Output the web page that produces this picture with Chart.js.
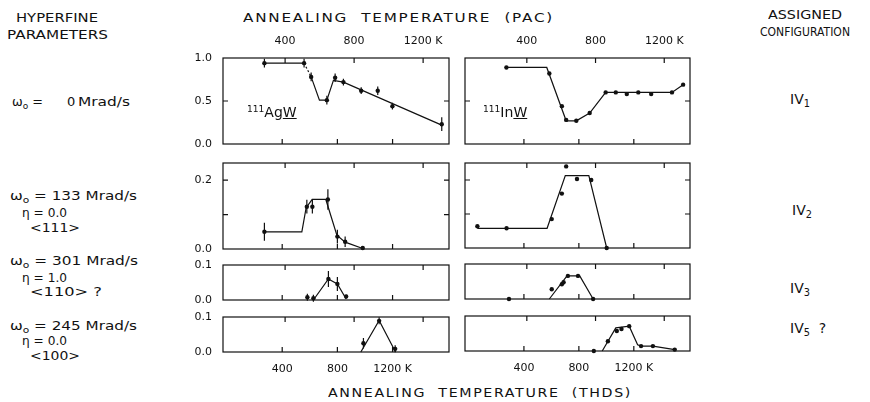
<!DOCTYPE html>
<html>
<head>
<meta charset="utf-8">
<script src="https://cdn.jsdelivr.net/npm/chart.js@4/dist/chart.umd.min.js"></script>
<style>
body { margin: 0; background: #fff; width: 870px; height: 402px; position: relative; overflow: hidden; font-family: 'DejaVu Sans', sans-serif; color: #111; }
canvas { position: absolute; }
.t { position: absolute; white-space: nowrap; font-size: 13px; line-height: 15px; transform-origin: left center; }
.t sub { font-size: 0.7em; vertical-align: -0.3em; line-height: 0; }
.t sup { font-size: 0.65em; vertical-align: 0.55em; line-height: 0; }
</style>
</head>
<body>
<script>
// --- données (températures en K, échelle PAC) ---
const PAC_TICKS = [400, 800, 1200];
const THDS_TICKS = [400, 800, 1200];
const PAC_MIN = 40, PAC_MAX = 1350;
const THDS_MIN = -29, THDS_MAX = 1609;

// IV1 - 111AgW
const agIV1_T = [280, 510, 551, 642, 690, 738, 841, 937, 1022, 1308];
const agIV1_f = [0.94, 0.94, 0.78, 0.51, 0.77, 0.72, 0.62, 0.62, 0.44, 0.23];
const agIV1_err = [0.05, 0.05, 0.05, 0.05, 0.05, 0.04, 0.04, 0.05, 0.04, 0.08];
const agIV1_fitT = [280, 510, 551, 599, 642, 680, 738, 1308];
const agIV1_fitF = [0.94, 0.94, 0.78, 0.51, 0.51, 0.74, 0.72, 0.22];

// IV1 - 111InW
const inIV1_T = [281, 531, 604, 629, 688, 766, 859, 918, 982, 1049, 1124, 1245, 1310];
const inIV1_f = [0.89, 0.82, 0.44, 0.28, 0.27, 0.36, 0.60, 0.60, 0.58, 0.60, 0.58, 0.60, 0.69];
const inIV1_fitT = [281, 516, 629, 688, 766, 859, 1245, 1310];
const inIV1_fitF = [0.89, 0.89, 0.27, 0.27, 0.36, 0.60, 0.60, 0.69];

// IV2
const agIV2_T = [280, 526, 558, 648, 703, 748, 850];
const agIV2_f = [0.05, 0.123, 0.123, 0.144, 0.036, 0.021, 0.003];
const agIV2_err = [0.026, 0.02, 0.02, 0.03, 0.02, 0.015, 0];
const agIV2_fitT = [280, 497, 522, 557, 636, 700, 748, 858];
const agIV2_fitF = [0.05, 0.05, 0.12, 0.144, 0.144, 0.04, 0.02, 0.0];

const inIV2_T = [112, 282, 545, 604, 629, 692, 775, 865];
const inIV2_f = [0.064, 0.058, 0.085, 0.16, 0.24, 0.203, 0.2, 0.0];
const inIV2_fitT = [112, 518, 624, 761, 865];
const inIV2_fitF = [0.058, 0.058, 0.213, 0.213, 0.0];

// IV3
const agIV3_T = [529, 564, 651, 703, 754];
const agIV3_f = [0.008, 0.005, 0.06, 0.046, 0.01];
const agIV3_err = [0.01, 0.01, 0.023, 0.02, 0.005];
const agIV3_fitT = [564, 651, 703, 754];
const agIV3_fitF = [0.0, 0.06, 0.046, 0.003];

const inIV3_T = [296, 545, 604, 614, 639, 698, 786];
const inIV3_f = [0.0, 0.028, 0.042, 0.048, 0.066, 0.066, 0.0];
const inIV3_fitT = [531, 634, 708, 786];
const inIV3_fitF = [0.0, 0.066, 0.066, 0.0];

// IV5
const agIV5_T = [854, 945, 1038];
const agIV5_f = [0.025, 0.089, 0.009];
const agIV5_err = [0.015, 0.01, 0.01];
const agIV5_fitT = [839, 945, 1040];
const agIV5_fitF = [0.0, 0.09, 0.0];

const inIV5_T = [790, 872, 924, 951, 996, 1065, 1134, 1261];
const inIV5_f = [0.0, 0.028, 0.057, 0.063, 0.071, 0.014, 0.014, 0.004];
const inIV5_fitT = [839, 918, 996, 1045, 1065, 1134, 1261];
const inIV5_fitF = [0.0, 0.066, 0.071, 0.018, 0.014, 0.014, 0.004];

Chart.defaults.font.family = 'DejaVu Sans';
Chart.defaults.font.size = 11;
Chart.defaults.color = '#111';

// cadre, graduations intérieures et barres d'erreur
const frame = {
    id: 'frame',
    afterDatasetsDraw(chart, args, opts) {
        const { ctx, chartArea: a, scales } = chart;
        const L = 5;
        ctx.save();
        ctx.strokeStyle = '#111';
        ctx.lineWidth = 1.2;
        ctx.strokeRect(a.left, a.top, a.width, a.height);
        ctx.beginPath();
        PAC_TICKS.forEach(v => {
            const x = scales.x.getPixelForValue(v);
            ctx.moveTo(x, a.top); ctx.lineTo(x, a.top + L);
        });
        THDS_TICKS.forEach(v => {
            const x = scales.xb.getPixelForValue(v);
            ctx.moveTo(x, a.bottom); ctx.lineTo(x, a.bottom - L);
        });
        (opts.yMarks || []).forEach(v => {
            const y = scales.y.getPixelForValue(v);
            ctx.moveTo(a.left, y); ctx.lineTo(a.left + L, y);
            ctx.moveTo(a.right, y); ctx.lineTo(a.right - L, y);
        });
        const ds = chart.data.datasets[0];
        const meta = chart.getDatasetMeta(0);
        (ds.errors || []).forEach((e, i) => {
            if (!e) return;
            const p = meta.data[i];
            ctx.moveTo(p.x, scales.y.getPixelForValue(ds.data[i].y - e));
            ctx.lineTo(p.x, scales.y.getPixelForValue(ds.data[i].y + e));
        });
        ctx.stroke();
        ctx.restore();
    }
};

function panel(box, T, f, err, fitT, fitF, o) {
    const c = document.createElement('canvas');
    c.width = box.w + 55;
    c.height = box.h + 55;
    c.style.left = (box.x - 45) + 'px';
    c.style.top = (box.y - 30) + 'px';
    document.body.appendChild(c);

    new Chart(c, {
        type: 'line',
        data: {
            datasets: [{
                data: T.map((t, i) => ({ x: t, y: f[i] })),
                errors: err,
                showLine: false,
                pointRadius: 2.2,
                pointBackgroundColor: '#111',
                pointBorderWidth: 0,
                clip: false,
                xAxisID: 'x', yAxisID: 'y'
            }, {
                data: fitT.map((t, i) => ({ x: t, y: fitF[i] })),
                borderColor: '#111',
                borderWidth: 1.2,
                pointRadius: 0,
                tension: 0,
                clip: false,
                segment: { borderDash: ctx => (o.dash || []).includes(ctx.p0DataIndex) ? [2, 2] : undefined },
                xAxisID: 'x', yAxisID: 'y'
            }]
        },
        options: {
            responsive: false,
            animation: false,
            devicePixelRatio: 1,
            layout: { padding: { right: 10 } },
            plugins: { legend: { display: false }, tooltip: { enabled: false }, frame: { yMarks: o.yMarks } },
            scales: {
                x: {
                    type: 'linear', position: 'top', min: PAC_MIN, max: PAC_MAX,
                    afterBuildTicks: s => { s.ticks = PAC_TICKS.map(v => ({ value: v })); },
                    afterFit: s => { s.height = 30; },
                    grid: { display: false, drawTicks: false },
                    border: { display: false },
                    ticks: { display: !!o.top, padding: 10, maxRotation: 0, autoSkip: false,
                        callback: v => v === 1200 ? '1200 K' : String(v) }
                },
                xb: {
                    type: 'linear', position: 'bottom', min: THDS_MIN, max: THDS_MAX,
                    afterBuildTicks: s => { s.ticks = THDS_TICKS.map(v => ({ value: v })); },
                    afterFit: s => { s.height = 25; },
                    grid: { display: false, drawTicks: false },
                    border: { display: false },
                    ticks: { display: !!o.bottom, padding: 11, maxRotation: 0, autoSkip: false,
                        callback: v => v === 1200 ? '1200 K' : String(v) }
                },
                y: {
                    type: 'linear', position: 'left', min: 0, max: o.ymax,
                    afterBuildTicks: s => { s.ticks = o.yLabels.map(v => ({ value: v })); },
                    afterFit: s => { s.width = 45; },
                    grid: { display: false, drawTicks: false },
                    border: { display: false },
                    ticks: { display: !!o.left, padding: 11, callback: v => v.toFixed(1) }
                }
            }
        },
        plugins: [frame]
    });
}

const LX = 223, RX = 465, PW = 225;
panel({ x: LX, y: 58, w: 226, h: 86 }, agIV1_T, agIV1_f, agIV1_err, agIV1_fitT, agIV1_fitF,
    { ymax: 1.0, yLabels: [0, 0.5, 1.0], yMarks: [0.5], left: true, top: true, dash: [1] });
panel({ x: RX, y: 58, w: PW, h: 86 }, inIV1_T, inIV1_f, null, inIV1_fitT, inIV1_fitF,
    { ymax: 1.0, yLabels: [0, 0.5, 1.0], yMarks: [0.5], top: true });
panel({ x: LX, y: 163, w: 226, h: 86 }, agIV2_T, agIV2_f, agIV2_err, agIV2_fitT, agIV2_fitF,
    { ymax: 0.25, yLabels: [0, 0.2], yMarks: [0.1, 0.2], left: true });
panel({ x: RX, y: 163, w: PW, h: 85 }, inIV2_T, inIV2_f, null, inIV2_fitT, inIV2_fitF,
    { ymax: 0.25, yLabels: [0, 0.2], yMarks: [0.1, 0.2] });
panel({ x: LX, y: 265, w: 226, h: 35 }, agIV3_T, agIV3_f, agIV3_err, agIV3_fitT, agIV3_fitF,
    { ymax: 0.1, yLabels: [0, 0.1], yMarks: [], left: true });
panel({ x: RX, y: 264, w: PW, h: 35 }, inIV3_T, inIV3_f, null, inIV3_fitT, inIV3_fitF,
    { ymax: 0.1, yLabels: [0, 0.1], yMarks: [] });
panel({ x: LX, y: 317, w: 226, h: 35 }, agIV5_T, agIV5_f, agIV5_err, agIV5_fitT, agIV5_fitF,
    { ymax: 0.1, yLabels: [0, 0.1], yMarks: [], left: true, bottom: true });
panel({ x: RX, y: 316, w: PW, h: 35 }, inIV5_T, inIV5_f, null, inIV5_fitT, inIV5_fitF,
    { ymax: 0.1, yLabels: [0, 0.1], yMarks: [], bottom: true });

// --- textes : taille de police, puis étirement horizontal jusqu'à la largeur voulue ---
function label(html, x, cy, w, center, size, spacing) {
    const d = document.createElement('div');
    d.className = 't';
    d.innerHTML = html;
    if (size) d.style.fontSize = size + 'px';
    if (spacing) d.style.letterSpacing = spacing + 'px';
    document.body.appendChild(d);
    const r = d.getBoundingClientRect();
    const width = w || r.width;
    if (w) d.style.transform = 'scaleX(' + (w / r.width) + ')';
    d.style.left = (center ? x - width / 2 : x) + 'px';
    d.style.top = (cy - r.height / 2) + 'px';
}

label('HYPERFINE', 57, 17, 82, true);
label('PARAMETERS', 57, 34, 101, true);
label('ANNEALING&nbsp;&nbsp;TEMPERATURE&nbsp;&nbsp;(PAC)', 398, 17, 311, true, 13, 1.5);
label('ASSIGNED', 805, 14, 74, true);
label('CONFIGURATION', 805, 31, 90, true);
label('ANNEALING&nbsp;&nbsp;TEMPERATURE&nbsp;&nbsp;(THDS)', 480, 392, 304, true, 13, 1.5);

label('ω<sub>o</sub> =', 12, 101, 31);
label('0', 67, 101);
label('Mrad/s', 78, 101, 52);
label('ω<sub>o</sub> = 133 Mrad/s', 10, 195, 127);
label('η = 0.0', 22, 212, 45);
label('&lt;111&gt;', 30, 227, 50);
label('ω<sub>o</sub> = 301 Mrad/s', 10, 260, 128);
label('η = 1.0', 22, 277, 45);
label('&lt;110&gt; ?', 30, 291, 72);
label('ω<sub>o</sub> = 245 Mrad/s', 10, 325, 127);
label('η = 0.0', 22, 340, 45);
label('&lt;100&gt;', 30, 355, 50);

label('IV<sub>1</sub>', 790, 99, 0, false, 14);
label('IV<sub>2</sub>', 792, 210, 0, false, 14);
label('IV<sub>3</sub>', 790, 288, 0, false, 14);
label('IV<sub>5</sub>&nbsp; ?', 790, 328, 0, false, 14);

label('<sup>111</sup>Ag<u>W</u>', 247, 112, 0, false, 14);
label('<sup>111</sup>In<u>W</u>', 483, 112, 0, false, 14);
</script>
</body>
</html>
